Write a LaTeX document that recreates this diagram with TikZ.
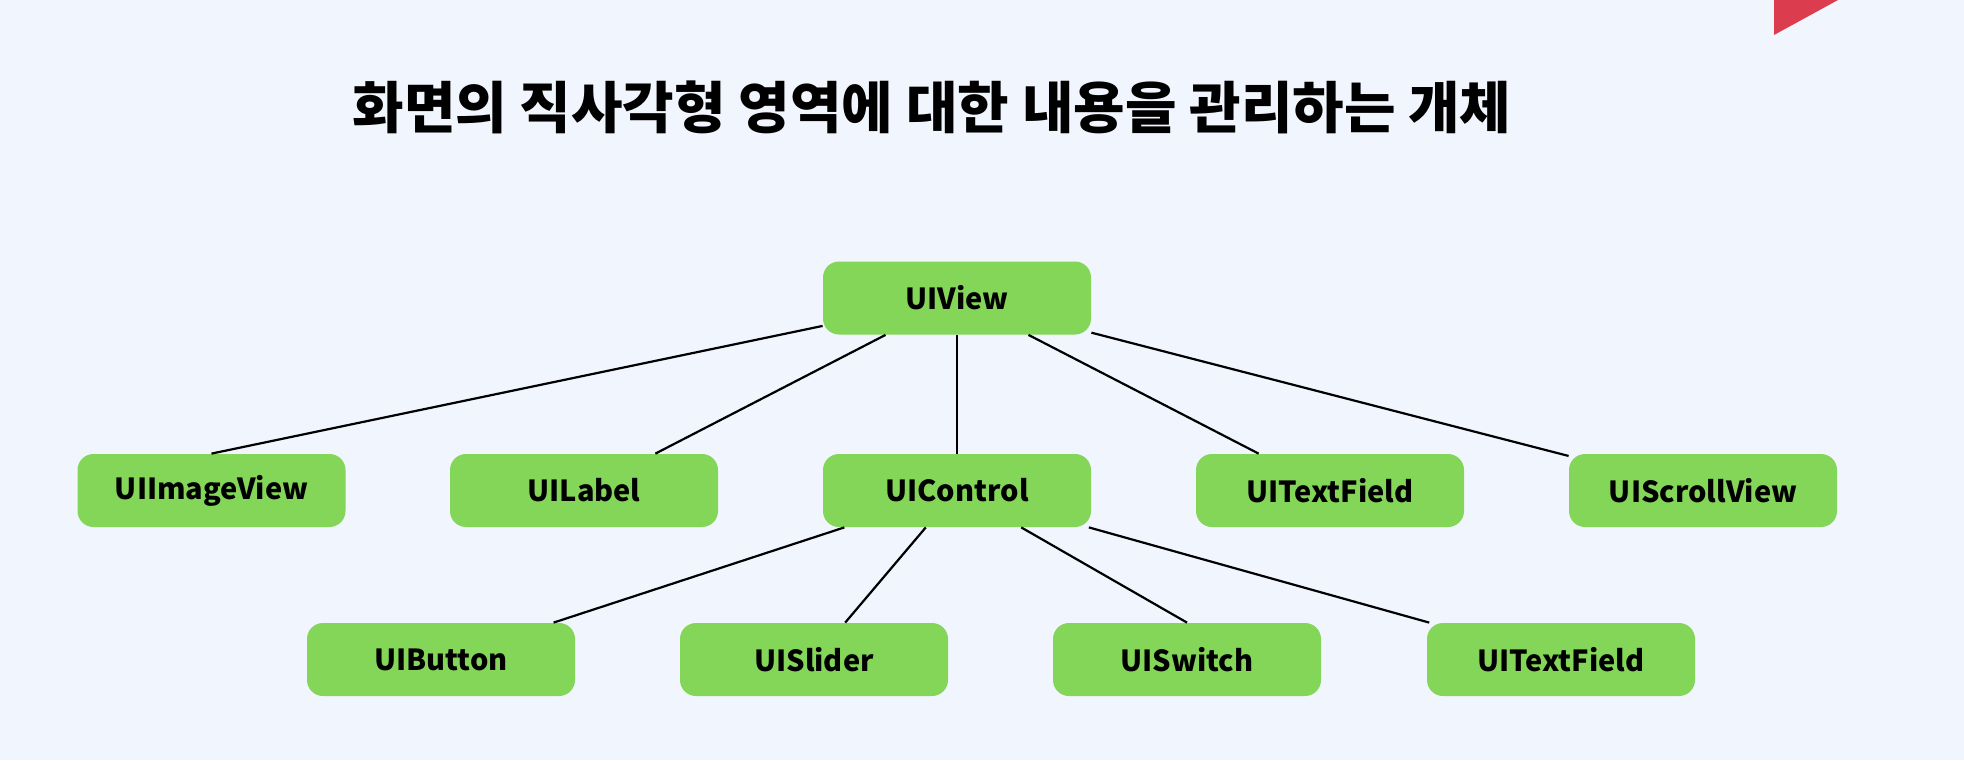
\documentclass[tikz,border=0pt]{standalone}
\usepackage{fontspec}
\setmainfont{Noto Sans CJK KR}
\definecolor{bgblue}{HTML}{F1F5FD}
\definecolor{boxgreen}{HTML}{83D657}
\definecolor{accentred}{HTML}{DB3D4F}
\tikzset{
  classbox/.style={rectangle, rounded corners=8pt, fill=boxgreen, minimum width=134pt, minimum height=36.5pt, inner sep=0pt, font=\fontsize{14.5}{17}\selectfont\bfseries},
  link/.style={draw=black, line width=1.1pt}
}
\begin{document}
\begin{tikzpicture}[x=0.5pt,y=-0.5pt]
\fill[bgblue] (0,0) rectangle (1964,760);
\useasboundingbox (0,0) rectangle (1964,760);
\fill[accentred] (1774,0)--(1838,0)--(1774,35)--cycle;
\node (title) at (932,107) {\fontsize{28}{32}\selectfont\bfseries 화면의 직사각형 영역에 대한 내용을 관리하는 개체};
% top row
\node[classbox] (uiview) at (957,298) {UIView};
% second row
\node[classbox] (uiimageview) at (211.5,490.5) {UIImageView};
\node[classbox] (uilabel) at (584,490.5) {UILabel};
\node[classbox] (uicontrol) at (957,490.5) {UIControl};
\node[classbox] (uitextfield) at (1330,490.5) {UITextField};
\node[classbox] (uiscrollview) at (1703,490.5) {UIScrollView};
% third row
\node[classbox] (uibutton) at (441,659.5) {UIButton};
\node[classbox] (uislider) at (814,659.5) {UISlider};
\node[classbox] (uiswitch) at (1187,659.5) {UISwitch};
\node[classbox] (uitextfieldb) at (1561,659.5) {UITextField};
\draw[link] (uiview) -- (uiimageview.north);
\draw[link] (uiview) -- (uilabel);
\draw[link] (uiview) -- (uicontrol);
\draw[link] (uiview) -- (uitextfield);
\draw[link] (uiview) -- (uiscrollview);
\draw[link] (uicontrol) -- (uibutton);
\draw[link] (uicontrol) -- (uislider);
\draw[link] (uicontrol) -- (uiswitch.north);
\draw[link] (uicontrol) -- (uitextfieldb);
\end{tikzpicture}
\end{document}
